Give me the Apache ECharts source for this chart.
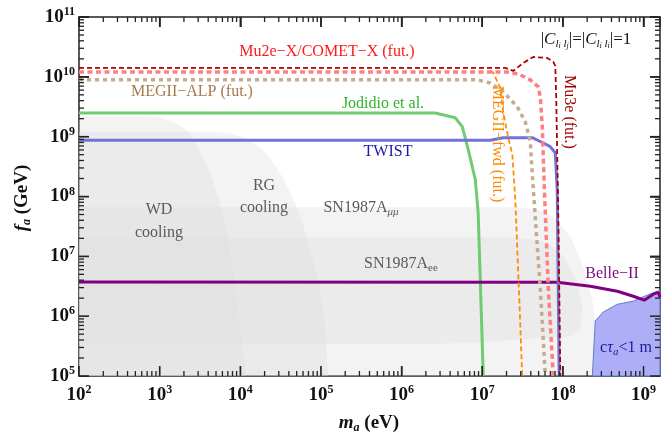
<!DOCTYPE html>
<html><head><meta charset="utf-8">
<script src="https://cdn.jsdelivr.net/npm/echarts@6/dist/echarts.min.js"></script>
<style>html,body{margin:0;padding:0;background:#fff}#c{width:670px;height:432px}</style>
</head><body><div id="c"></div>
<script>
// ---- axis ranges & tick labels (exponents of 10) ----
const X_MIN = 1e2, X_MAX = 1.6e9, Y_MIN = 1e5, Y_MAX = 1e11;
const xMajorExp = [2, 3, 4, 5, 6, 7, 8, 9];
const yMajorExp = [5, 6, 7, 8, 9, 10, 11];
const minorMult = [2, 3, 4, 5, 6, 7, 8, 9];

// ---- shaded exclusion regions [m_a (eV), f_a (GeV)] ----
const wdRegion = [[1e2,2.2e9],[676,2.2e9],[1070,2.07e9],[1740,1.58e9],[2320,1.17e9],[3080,6.1e8],[4100,2.8e8],[5460,8.9e7],[6860,2.5e7],[8370,4.6e6],[9950,6.1e5],[1.18e4,1e5],[1e2,1e5]];
const rgRegion = [[1e2,1.21e9],[4470,1.21e9],[7000,1.15e9],[1.18e4,9.6e8],[2.09e4,5.4e8],[3.3e4,2.15e8],[5.2e4,6.1e7],[7.35e4,1.31e7],[9.2e4,4.1e6],[1.1e5,8.9e5],[1.23e5,1e5],[1e2,1e5]];
const snMuMuRegion = [[1e2,6.6e7],[2.96e7,6.6e7],[5.25e7,5.8e7],[7.6e7,4.6e7],[1.24e8,2.15e7],[1.79e8,6.8e6],[2.32e8,1.92e6],[2.52e8,7.9e5],[2.45e8,1e5],[1e2,1e5]];
const snEERegion = [[1e2,2.07e7],[2.24e7,2.07e7],[3.94e7,1.95e7],[6.4e7,1.71e7],[1.01e8,1e7],[1.51e8,3.7e6],[1.74e8,1.47e6],[1.64e8,6.1e5],[1.24e8,4.6e5],[2.96e7,4.1e5],[7.1e6,3.55e5],[9.5e5,3.4e5],[1e2,3.4e5]];
const decayRegion = [[2.32e8,1e5],[2.52e8,8.3e5],[3.16e8,1.17e6],[4.73e8,1.58e6],[7.47e8,1.78e6],[1.02e9,2.15e6],[1.48e9,2.6e6],[1.6e9,2.7e6],[1.6e9,1e5]];

// ---- limit curves ----
const jodidio = [[1e2,2.48e9],[2.61e6,2.48e9],[4.62e6,2.07e9],[5.65e6,1.47e9],[6.7e6,6.1e8],[8.2e6,1.92e8],[8.9e6,5.4e7],[1.03e7,1e5]];
const twist = [[1e2,8.7e8],[1.26e7,8.7e8],[1.82e7,9.6e8],[3.6e7,9.6e8],[4.17e7,9.6e8],[5.25e7,8.3e8],[6.98e7,6.8e8],[8.05e7,5.4e8],[8.5e7,1.3e8],[9.0e7,1e5]];
const belle2 = [[1e2,3.73e6],[8.5e7,3.69e6],[2.19e8,3.16e6],[4.73e8,2.61e6],[7.47e8,2.15e6],[1.02e9,1.85e6],[1.32e9,2.33e6],[1.53e9,2.5e6],[1.6e9,2.07e6]];
const megAlp = [[1e2,8.9e9],[8.7e6,8.9e9],[1.26e7,7.9e9],[1.82e7,5.6e9],[2.72e7,3.16e9],[3.41e7,1.78e9],[3.94e7,8.3e8],[4.3e7,1.31e8],[5.25e7,2.8e6],[6.06e7,1e5]];
const megFwd = [[1.26e7,1.26e10],[1.37e7,1.17e10],[1.67e7,6.6e9],[1.82e7,2.6e9],[2.1e7,9.6e8],[2.36e7,5.0e8],[2.57e7,8.9e7],[2.88e7,1.92e6],[3.13e7,1e5]];
const mu2eX = [[1e2,1.2e10],[2.22e7,1.2e10],[2.96e7,1.08e10],[3.94e7,8.9e9],[4.96e7,6.8e9],[5.25e7,4.5e9],[5.56e7,1.41e9],[5.7e7,5e8],[5.9e7,1.31e8],[6.6e7,2.8e6],[7.6e7,1e5]];
const mu3e = [[1e2,1.41e10],[1.93e7,1.41e10],[2.43e7,1.26e10],[3.23e7,1.71e10],[4.3e7,2.15e10],[6.4e7,2.07e10],[7.6e7,1.78e10],[8.05e7,1.52e10],[8.28e7,4.1e9],[8.77e7,4.8e7],[9.3e7,1e5]];

// ---- derived tick values (real units) ----
const xMajorVals = xMajorExp.map(e => Math.pow(10, e));
const yMajorVals = yMajorExp.map(e => Math.pow(10, e));
const xMinorVals = [], yMinorVals = [];
xMajorExp.forEach(e => minorMult.forEach(k => { const v = k * Math.pow(10, e); if (v <= X_MAX) xMinorVals.push(v); }));
yMajorExp.forEach(e => minorMult.forEach(k => { const v = k * Math.pow(10, e); if (v < Y_MAX) yMinorVals.push(v); }));

const SERIF = '"Liberation Serif", "Times New Roman", serif';
const AX = '#222';
const labelRich = {
  b: {fontFamily: SERIF, fontWeight: 'bold', fontSize: 19, color: '#111', lineHeight: 22},
  s: {fontFamily: SERIF, fontWeight: 'bold', fontSize: 12, color: '#111', verticalAlign: 'top', lineHeight: 13}
};
const fmt = v => '{b|10}{s|' + Math.round(Math.log10(v)) + '}';

function logAxis(isX, pos, showLabel) {
  return {
    type: 'log', logBase: 10, position: pos,
    min: isX ? X_MIN : Y_MIN, max: isX ? X_MAX : Y_MAX,
    splitLine: {show: false},
    axisLine: {show: true, onZero: false, lineStyle: {color: AX, width: 1.5}},
    axisTick: {show: true, inside: true, length: 10, lineStyle: {color: AX, width: 1.5}},
    axisLabel: showLabel ? {show: true, formatter: fmt, rich: labelRich, margin: isX ? 8 : 4} : {show: false}
  };
}

// tick marks as thin filled rectangles placed through the log scales
function tickSeries(vals, side, len, w) {
  const isX = side === 'bottom' || side === 'top';
  const fixed = side === 'bottom' ? Y_MIN : side === 'top' ? Y_MAX : side === 'left' ? X_MIN : X_MAX;
  return {
    type: 'custom', clip: false, silent: true,
    data: vals.map(v => isX ? [v, fixed] : [fixed, v]),
    renderItem: (params, api) => {
      const a = api.coord([api.value(0), api.value(1)]);
      let pts;
      if (side === 'bottom') pts = [[a[0] - w / 2, a[1]], [a[0] + w / 2, a[1]], [a[0] + w / 2, a[1] - len], [a[0] - w / 2, a[1] - len]];
      else if (side === 'top') pts = [[a[0] - w / 2, a[1]], [a[0] + w / 2, a[1]], [a[0] + w / 2, a[1] + len], [a[0] - w / 2, a[1] + len]];
      else if (side === 'left') pts = [[a[0], a[1] - w / 2], [a[0], a[1] + w / 2], [a[0] + len, a[1] + w / 2], [a[0] + len, a[1] - w / 2]];
      else pts = [[a[0], a[1] - w / 2], [a[0], a[1] + w / 2], [a[0] - len, a[1] + w / 2], [a[0] - len, a[1] - w / 2]];
      return {type: 'polygon', shape: {points: pts}, style: {fill: AX}};
    }
  };
}

function poly(pts, fill, stroke, lw) {
  return {
    type: 'custom', silent: true,
    data: pts,
    renderItem: (params, api) => {
      if (params.dataIndex !== 0) return null;
      return {type: 'polygon', shape: {points: pts.map(p => api.coord(p))},
              style: {fill: fill, stroke: stroke, lineWidth: lw}};
    }
  };
}
function line(data, color, width, type) {
  return {type: 'line', data: data, showSymbol: false, symbol: 'none', silent: true,
          lineStyle: {color: color, width: width, type: type, cap: 'butt'}};
}

const GREY = 'rgba(220,220,220,0.35)';
const series = [
  poly(wdRegion, GREY, null, 0),
  poly(rgRegion, GREY, null, 0),
  poly(snMuMuRegion, GREY, null, 0),
  poly(snEERegion, GREY, null, 0),
  poly(decayRegion, '#aeaef6', '#5b80c6', 1),
  line(jodidio, '#70cc70', 3, 'solid'),
  line(belle2, '#800080', 3, 'solid'),
  line(twist, '#7272d6', 3, 'solid'),
  line(megAlp, '#c6aa8e', 3.5, [4, 4]),
  line(megFwd, '#ff8c00', 1.8, [5, 3]),
  line(mu2eX, '#ff8080', 3.5, [5, 3.5]),
  line(mu3e, '#b00000', 1.8, [5, 3]),
  tickSeries(xMajorVals, 'bottom', 10, 1.5),
  tickSeries(xMajorVals, 'top', 10, 1.5),
  tickSeries(yMajorVals, 'left', 10, 1.5),
  tickSeries(yMajorVals, 'right', 10, 1.5),
  tickSeries(xMinorVals, 'bottom', 5, 1.3),
  tickSeries(xMinorVals, 'top', 5, 1.3),
  tickSeries(yMinorVals, 'left', 5, 1.3),
  tickSeries(yMinorVals, 'right', 5, 1.3)
];
series.forEach((s, i) => { s.xAxisIndex = 0; s.yAxisIndex = 0; s.z = 2 + i * 0.01; });

function T(x, y, text, rich, rot) {
  return {type: 'text', x: x, y: y, rotation: rot || 0, z: 100, silent: true,
          style: {text: text, rich: rich, align: 'center', verticalAlign: 'middle'}};
}
const R = (size, fill, extra) => Object.assign({fontFamily: SERIF, fontSize: size, fill: fill}, extra || {});
const plain = (c, s) => ({t: R(s || 16, c)});
const GR = '#5a5a5a';

const graphics = [
  T(327, 52, '{t|Mu2e\u2212X/COMET\u2212X (fut.)}', plain('#ff1a1a')),
  T(192, 92, '{t|MEGII\u2212ALP (fut.)}', plain('#a67a4c')),
  T(383, 104, '{t|Jodidio et al.}', plain('#2db52d')),
  T(388, 152, '{t|TWIST}', plain('#1c1ca8')),
  T(497, 144, '{t|MEGII\u2212fwd (fut.)}', plain('#ff8c00'), -Math.PI / 2),
  T(569, 112, '{t|Mu3e (fut.)}', plain('#a00000'), -Math.PI / 2),
  T(612, 274, '{t|Belle\u2212II}', plain('#7a0a7a')),
  T(159, 210, '{t|WD}', plain(GR)),
  T(159, 233, '{t|cooling}', plain(GR)),
  T(264, 186, '{t|RG}', plain(GR)),
  T(264, 208, '{t|cooling}', plain(GR)),
  T(361, 208, '{t|SN1987A}{s|\u03bc\u03bc}', {t: R(16, GR, {lineHeight: 20}), s: R(11, GR, {fontStyle: 'italic', verticalAlign: 'bottom', lineHeight: 12})}),
  T(401, 264, '{t|SN1987A}{s|ee}', {t: R(16, GR, {lineHeight: 20}), s: R(11, GR, {verticalAlign: 'bottom', lineHeight: 12})}),
  T(626, 348, '{t|c}{i|\u03c4}{s|a}{t|<1 m}', {t: R(16, '#1a1aa0', {lineHeight: 20}), i: R(16, '#1a1aa0', {fontStyle: 'italic', lineHeight: 20}), s: R(11, '#1a1aa0', {fontStyle: 'italic', verticalAlign: 'bottom', lineHeight: 12})}),
  T(586, 40, '{n||}{it|C}{sb|l}{ss|i}{sb| l}{ss|j}{n||=|}{it|C}{sb|l}{ss|i}{sb| l}{ss|i}{n||=1}', {
    n: R(17, '#111', {lineHeight: 20}), it: R(17, '#111', {fontStyle: 'italic', lineHeight: 20}),
    sb: R(11, '#111', {fontStyle: 'italic', verticalAlign: 'bottom', lineHeight: 12}),
    ss: R(8, '#111', {fontStyle: 'italic', verticalAlign: 'bottom', lineHeight: 7})}),
  T(22, 198, '{f|f}{s|a}{t| (GeV)}', {f: R(19, '#111', {fontWeight: 'bold', fontStyle: 'italic', lineHeight: 22}), s: R(12, '#111', {fontWeight: 'bold', fontStyle: 'italic', verticalAlign: 'bottom', lineHeight: 13}), t: R(19, '#111', {fontWeight: 'bold', lineHeight: 22})}, Math.PI / 2),
  T(369, 423, '{f|m}{s|a}{t| (eV)}', {f: R(19, '#111', {fontWeight: 'bold', fontStyle: 'italic', lineHeight: 22}), s: R(12, '#111', {fontWeight: 'bold', fontStyle: 'italic', verticalAlign: 'bottom', lineHeight: 13}), t: R(19, '#111', {fontWeight: 'bold', lineHeight: 22})})
];

const chart = echarts.init(document.getElementById('c'), null, {renderer: 'canvas'});
chart.setOption({
  animation: false,
  backgroundColor: '#fff',
  grid: {left: 79, top: 17, width: 581, height: 359, containLabel: false, outerBoundsMode: 'none'},
  xAxis: [logAxis(true, 'bottom', true), logAxis(true, 'top', false)],
  yAxis: [logAxis(false, 'left', true), logAxis(false, 'right', false)],
  series: series,
  graphic: graphics
});
</script>
</body></html>
